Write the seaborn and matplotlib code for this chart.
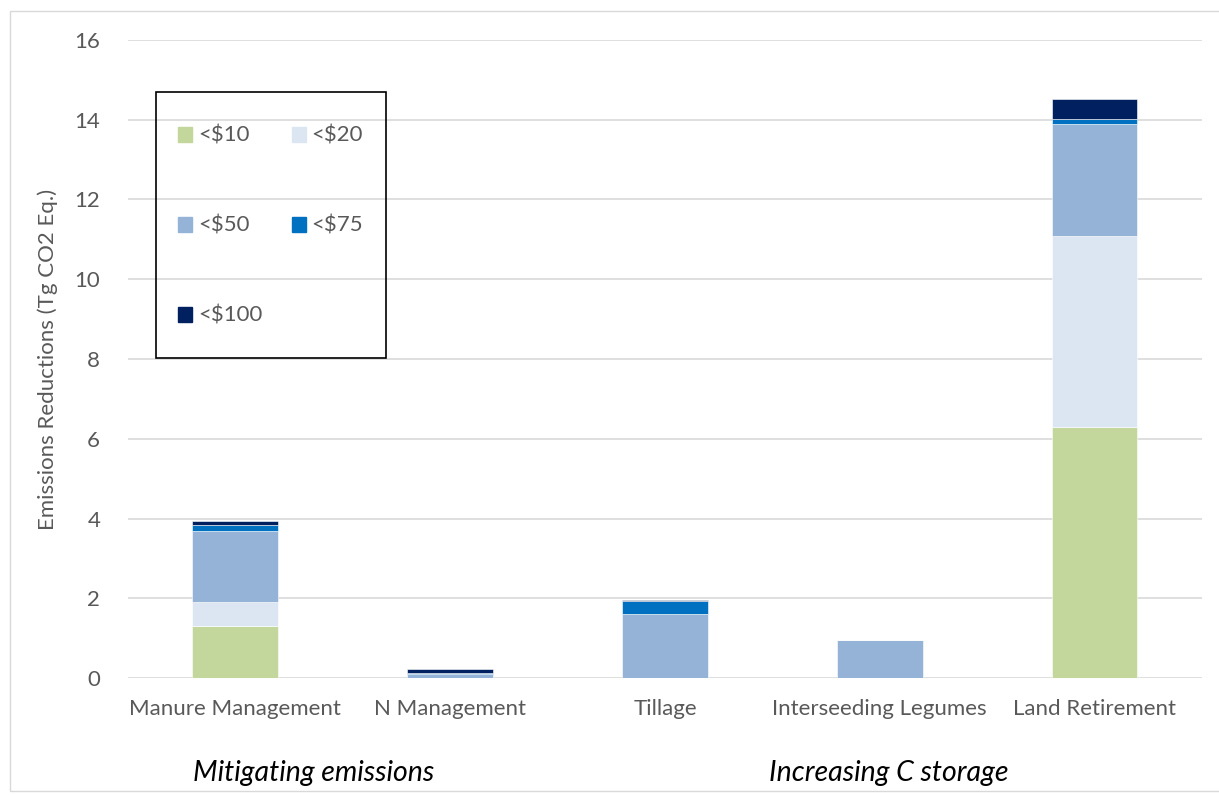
import numpy as np
import pandas as pd
import matplotlib
matplotlib.use("Agg")
import matplotlib.pyplot as plt
import matplotlib.patches as mpatches
import seaborn as sns

# practices on the x axis
practices = ["Manure Management", "N Management", "Tillage",
             "Interseeding Legumes", "Land Retirement"]

# cost tiers, stacked bottom to top
tiers = ["<$10", "<$20", "<$50", "<$75", "<$100"]

# reductions (Tg CO2 Eq.) per tier, one value per practice
lt10 = [1.30, 0.00, 0.00, 0.00, 6.30]
lt20 = [0.60, 0.00, 0.00, 0.00, 4.78]
lt50 = [1.79, 0.10, 1.60, 0.95, 2.82]
lt75 = [0.14, 0.04, 0.33, 0.00, 0.11]
lt100 = [0.10, 0.08, 0.04, 0.00, 0.50]

colors = ["#c3d69b", "#dce6f2", "#95b3d7", "#0070c0", "#002060"]

df = pd.DataFrame({"practice": practices, "<$10": lt10, "<$20": lt20,
                   "<$50": lt50, "<$75": lt75, "<$100": lt100})

sns.set_theme(style="white")
plt.rcParams['font.family'] = ['Lato', 'DejaVu Sans']

fig = plt.figure(figsize=(12.19, 7.95), dpi=100)
ax = fig.add_axes([0.105, 0.147, 0.881, 0.803])

bottom = np.zeros(len(practices))
for tier, col in zip(tiers, colors):
    sns.barplot(data=df, x="practice", y=tier, color=col, width=0.4,
                saturation=1, bottom=bottom, ax=ax, edgecolor="white",
                linewidth=0.4)
    bottom = bottom + df[tier].values

ax.set_xlim(-0.5, 4.5)
ax.set_ylim(0, 16)
ax.set_yticks(range(0, 17, 2))
ax.yaxis.grid(True, color="#d9d9d9", linewidth=1.2)
ax.set_axisbelow(True)
for s in ax.spines.values():
    s.set_visible(False)
ax.tick_params(axis="both", length=0, labelsize=16, colors="#595959")
ax.tick_params(axis="y", pad=20)
ax.tick_params(axis="x", pad=15)
ax.set_xlabel("")
ax.set_ylabel("Emissions Reductions (Tg CO2 Eq.)", fontsize=16,
              color="#595959", labelpad=12)

# legend filled row by row like the original (matplotlib fills by column)
handles = [mpatches.Patch(color=c, label=t) for t, c in zip(tiers, colors)]
order = [0, 2, 4, 1, 3]
leg = ax.legend(handles=[handles[i] for i in order], ncol=2, loc="upper left",
                bbox_to_anchor=(0.0466, 0.865), fontsize=16,
                frameon=False, labelspacing=3.15, columnspacing=1.32,
                handlelength=0.65, handleheight=0.65, handletextpad=0.25,
                borderpad=0, borderaxespad=0)
for t in leg.get_texts():
    t.set_color("#595959")
# the legend box in the original is taller than its entries need
ax.add_patch(mpatches.Rectangle((0.0261, 0.5016), 0.2141, 0.4169,
                                transform=ax.transAxes, fill=False,
                                edgecolor="black", linewidth=1.2,
                                zorder=5, clip_on=False))

fig.text(0.257, 0.028, "Mitigating emissions", style="italic",
         fontsize=20.5, ha="center", va="center", color="black")
fig.text(0.729, 0.028, "Increasing C storage", style="italic",
         fontsize=20.5, ha="center", va="center", color="black")

fig.patches.append(mpatches.Rectangle((0.008, 0.005), 0.995, 0.981,
                                      transform=fig.transFigure,
                                      fill=False, edgecolor="#d9d9d9",
                                      linewidth=1))

fig.savefig("out.png", dpi=100)
